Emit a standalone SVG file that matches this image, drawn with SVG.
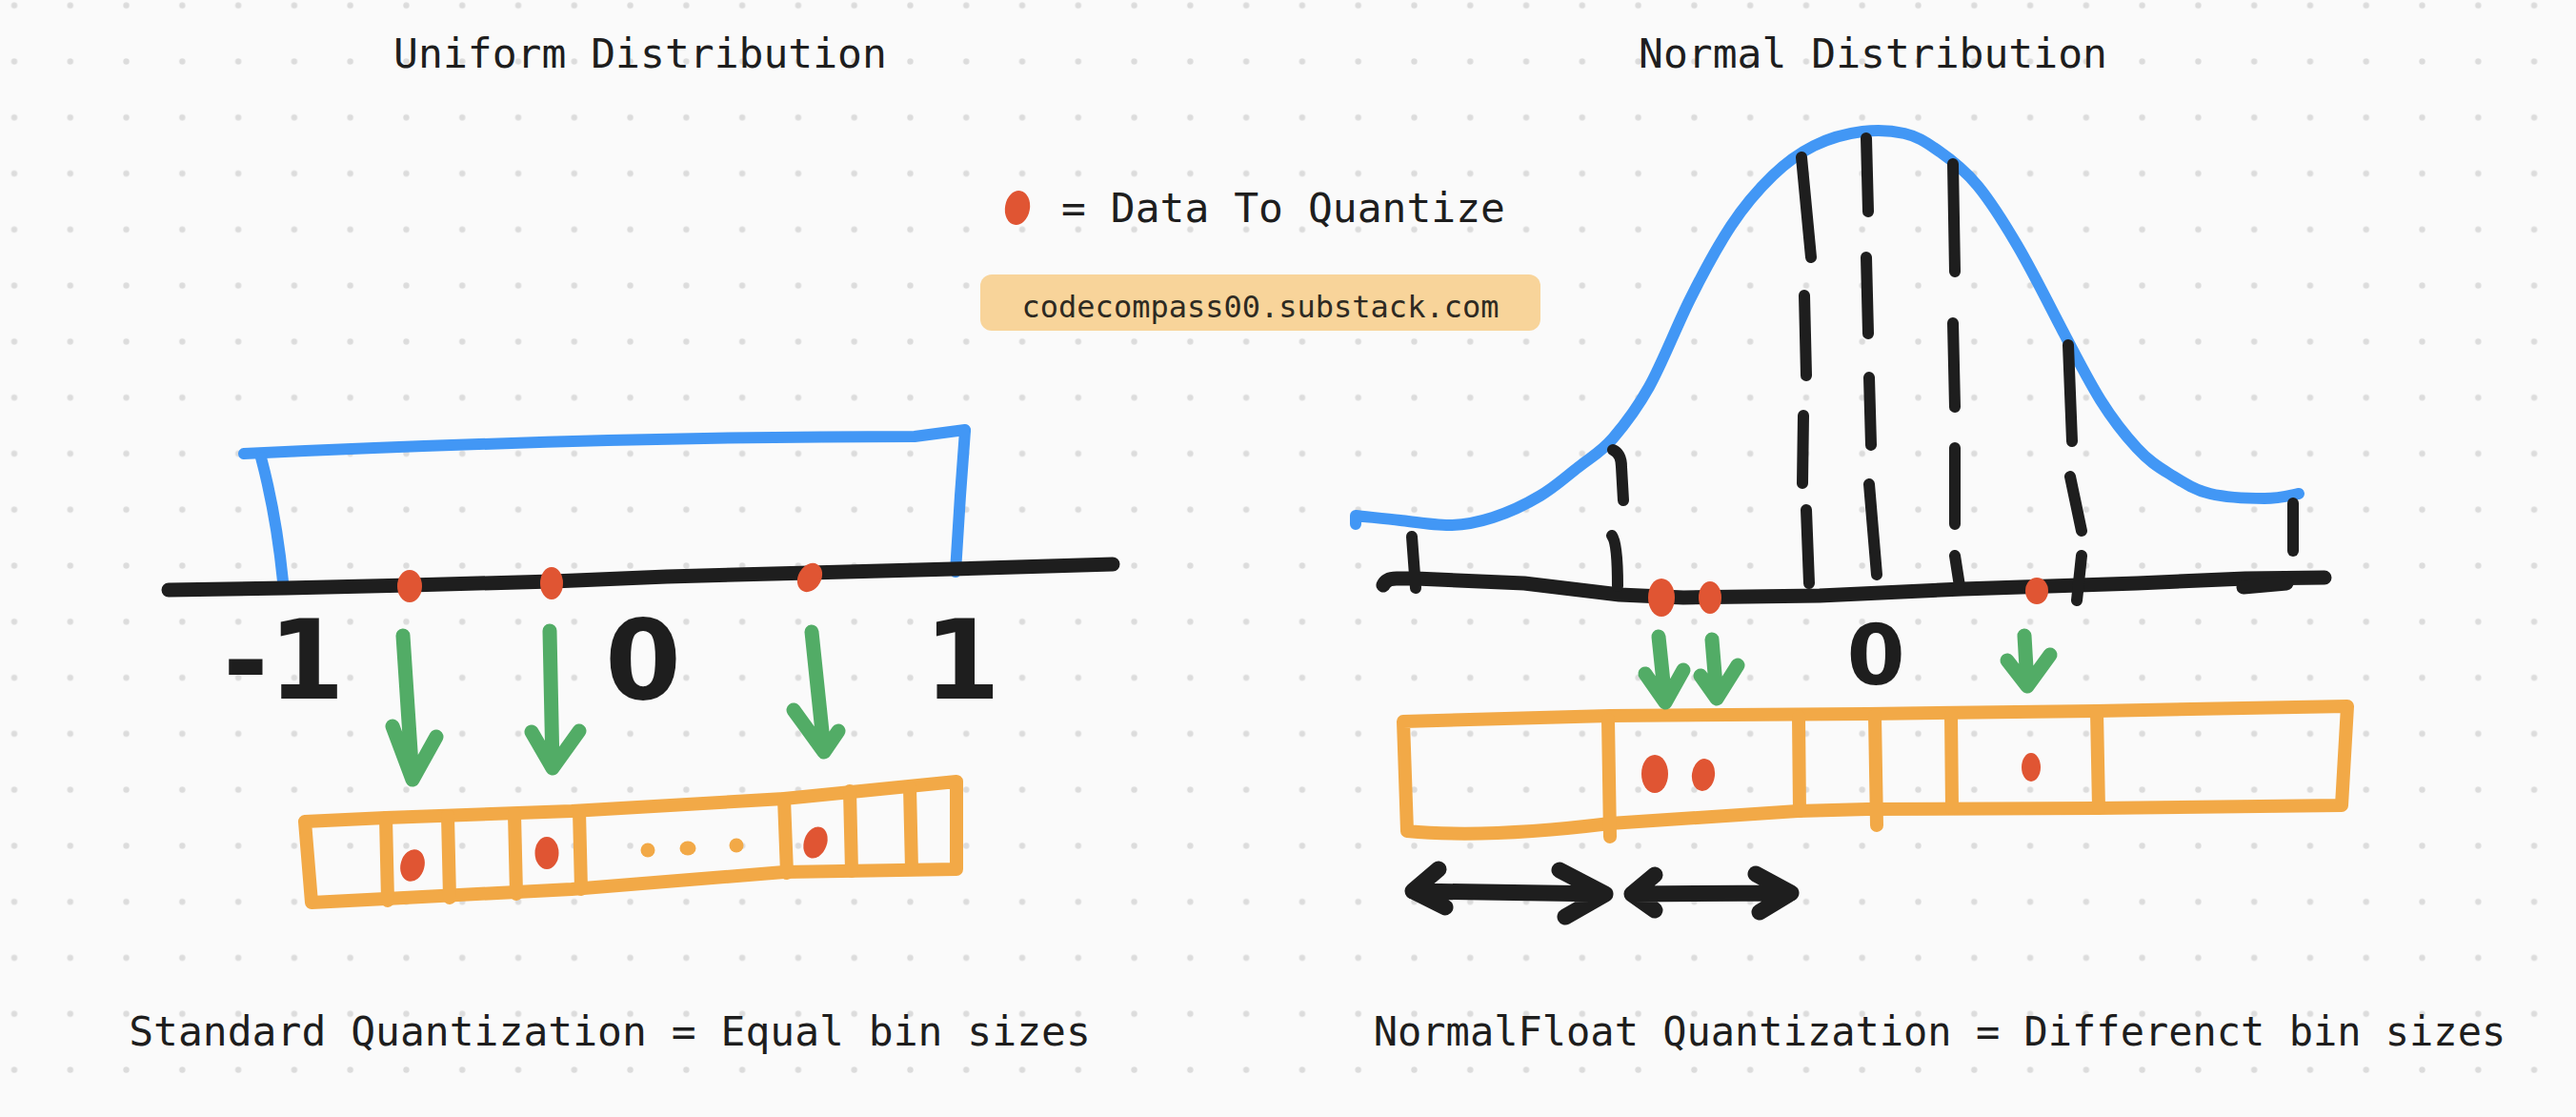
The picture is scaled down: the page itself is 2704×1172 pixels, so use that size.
<svg xmlns="http://www.w3.org/2000/svg" width="2704" height="1172" viewBox="0 0 2704 1172">
<style>
.t{font-family:"DejaVu Sans Mono","Liberation Mono",monospace;fill:#1e1e1e}
.num{font-family:"DejaVu Sans","Liberation Sans",sans-serif;font-weight:bold;fill:#1e1e1e}
.blue{fill:none;stroke:#4297f5;stroke-width:12;stroke-linecap:round;stroke-linejoin:round}
.ax{fill:none;stroke:#1e1e1e;stroke-width:15;stroke-linecap:round;stroke-linejoin:round}
.tk{fill:none;stroke:#1e1e1e;stroke-width:12;stroke-linecap:round;stroke-linejoin:round}
.bin{fill:none;stroke:#f2a947;stroke-width:14;stroke-linecap:round;stroke-linejoin:round}
.dot{fill:#e05533}
.od{fill:#f2a947}
.gr{fill:none;stroke:#52ac66;stroke-width:15;stroke-linecap:round;stroke-linejoin:round}
.bk{fill:none;stroke:#1e1e1e;stroke-width:17;stroke-linecap:round;stroke-linejoin:round}
</style>
<defs>
<pattern id="grid" x="-14.39" y="-23.69" width="58.78" height="58.78" patternUnits="userSpaceOnUse">
<circle cx="29.39" cy="29.39" r="3.2" fill="#dcdcdc"/>
</pattern>
</defs>
<rect width="2704" height="1172" fill="#fafafa"/>
<rect width="2704" height="1172" fill="url(#grid)"/>

<g id="title-uniform"><text class="t" x="672" y="71" font-size="43" text-anchor="middle">Uniform Distribution</text></g>
<g id="title-normal"><text class="t" x="1966" y="71" font-size="43" text-anchor="middle">Normal Distribution</text></g>

<g id="legend">
<ellipse class="dot" cx="1068" cy="218" rx="13" ry="18" transform="rotate(10 1068 218)"/>
<text class="t" x="1114" y="233" font-size="43">= Data To Quantize</text>
</g>
<g id="badge">
<rect x="1029" y="288" width="588" height="59" rx="12" fill="#f8d49a"/>
<text class="t" x="1323" y="333" font-size="32" text-anchor="middle" style="fill:#2e2a22">codecompass00.substack.com</text>
</g>

<g id="uniform-chart">
<path class="blue" d="M256 476 Q640 458 960 458 L1013 451"/>
<path class="blue" d="M274 480 Q290 540 297 610"/>
<path class="blue" d="M1013 452 L1008 520 L1003 600"/>
<path class="ax" d="M177 619 L300 617 L430 614 L580 610 L700 605 L850 601 L1000 597 L1168 592"/>
<ellipse class="dot" cx="430" cy="615" rx="13" ry="17"/>
<ellipse class="dot" cx="579" cy="612" rx="12" ry="17"/>
<ellipse class="dot" cx="850" cy="606" rx="12" ry="16" transform="rotate(30 850 606)"/>
<text class="num" x="234" y="733" font-size="115">-1</text>
<text class="num" x="675" y="733" font-size="115" text-anchor="middle">0</text>
<text class="num" x="1010" y="733" font-size="115" text-anchor="middle">1</text>
</g>

<g id="uniform-bins">
<path class="bin" d="M320 862 L405 858 L600 851 L823 838 L1004 820 L1004 912 L823 915 L600 933 L405 943 L327 947 Z"/>
<path class="bin" d="M405 858 L407 945 M470 856 L472 942 M540 854 L542 938 M608 851 L610 933 M823 838 L826 916 M892 830 L894 914 M955 826 L957 912"/>
<ellipse class="dot" cx="433" cy="908" rx="12.5" ry="17" transform="rotate(15 433 908)"/>
<ellipse class="dot" cx="574" cy="895" rx="12.5" ry="17"/>
<ellipse class="dot" cx="856" cy="884" rx="12" ry="17" transform="rotate(20 856 884)"/>
<circle class="od" cx="680" cy="892" r="7.5"/>
<ellipse class="od" cx="722" cy="890" rx="8.5" ry="7.5"/>
<circle class="od" cx="773" cy="887" r="7.5"/>
</g>

<g id="normal-chart">
<path class="blue" d="M1423 550 L1423 541 C1431 542 1453 544 1470 546 C1487 548 1508 551.5 1524 551 C1540 550.5 1551.5 548 1567 543 C1582.5 538 1602 529 1617 520 C1632 511 1644 500 1657 490 C1669.7 480 1681 474 1693 460 C1705 446 1717.5 430 1731 406 C1744.5 382 1760 342 1774 314 C1788 286 1802.5 259 1817 237 C1831.5 215 1846.5 198 1861 184 C1875.5 170 1888 161 1904 153 C1920 145 1939 140 1955 138 C1971 136 1986 137 1999 140 C2012 143 2020 148 2033 157 C2046 166 2062 178 2076 195 C2090 212 2105 236 2119 260 C2133 284 2148 314 2162 341 C2176 368 2191.5 398.5 2205 420 C2218.5 441.5 2231 457 2243 470 C2255 483 2264 489 2277 497 C2290 505 2303 514 2320 518 C2337 522 2361.5 523 2377 523 C2392.5 523 2407 519 2413 518"/>
<path class="ax" d="M1452 614 Q1455 607 1466 607 L1486 607 L1600 612 L1700 624 L1767 627 L1910 625 L2060 618 L2243 612 L2357 607 L2440 606"/>
<path class="ax" d="M2355 616 L2400 612"/>
<path class="tk" d="M1482 563 L1486 617"/>
<path class="tk" d="M1693 472 Q1702 476 1702 490 L1704 525 M1692 562 Q1698 570 1698 615"/>
<path class="tk" d="M1891 165 L1901 270 M1894 310 L1896 394 M1893 436 L1892 507 M1896 535 L1899 612"/>
<path class="tk" d="M1959 145 L1961 222 M1959 270 L1961 350 M1962 396 L1964 467 M1962 508 L1970 603"/>
<path class="tk" d="M2050 172 L2052 285 M2050 339 L2052 427 M2052 470 L2052 550 M2052 583 L2057 615"/>
<path class="tk" d="M2171 362 L2175 463 M2173 500 L2185 557 M2185 583 L2180 630"/>
<path class="tk" d="M2407 528 L2407 578"/>
<ellipse class="dot" cx="1744" cy="627" rx="14" ry="20"/>
<ellipse class="dot" cx="1795" cy="627" rx="12" ry="17"/>
<ellipse class="dot" cx="2138" cy="620" rx="12" ry="14"/>
<text class="num" x="1969" y="718" font-size="88" text-anchor="middle">0</text>
</g>

<g id="normal-bins">
<path class="bin" d="M1473 757 L1690 751 L1960 749 L2200 746 L2464 741 L2458 845 L2200 848 L1960 849 L1887 851 L1690 864 Q1560 880 1477 872 Z"/>
<path class="bin" d="M1688 755 L1690 878 M1888 752 L1889 851 M1968 751 L1970 866 M2048 750 L2049 848 M2201 747 L2203 848"/>
<ellipse class="dot" cx="1737" cy="812" rx="14" ry="20"/>
<ellipse class="dot" cx="1788" cy="813" rx="12" ry="17" transform="rotate(8 1788 813)"/>
<ellipse class="dot" cx="2132" cy="805" rx="10" ry="15"/>
</g>

<g id="connectors">
<path class="gr" d="M423 667 Q428 740 433 818 M412 762 L433 818 L458 773"/>
<path class="gr" d="M577 662 L580 805 M558 768 L580 806 L608 767"/>
<path class="gr" d="M852 663 L865 787 M833 745 L865 789 L880 767"/>
<path class="gr" d="M1741 668 L1748 735 M1727 707 L1748 737 L1767 703"/>
<path class="gr" d="M1797 671 L1802 731 M1785 709 L1802 733 L1824 698"/>
<path class="gr" d="M2125 667 L2128 718 M2107 693 L2128 720 L2152 687"/>
<path class="bk" d="M1483 935 L1685 938 M1510 912 L1483 935 L1517 952 M1637 913 L1685 938 L1643 962"/>
<path class="bk" d="M1713 938 L1880 937 M1737 918 L1713 938 L1737 955 M1843 917 L1880 937 L1847 957"/>
</g>

<g id="caption-standard"><text class="t" x="640" y="1097" font-size="43" text-anchor="middle">Standard Quantization = Equal bin sizes</text></g>
<g id="caption-normalfloat"><text class="t" x="2036" y="1097" font-size="42" text-anchor="middle">NormalFloat Quantization = Differenct bin sizes</text></g>
</svg>
